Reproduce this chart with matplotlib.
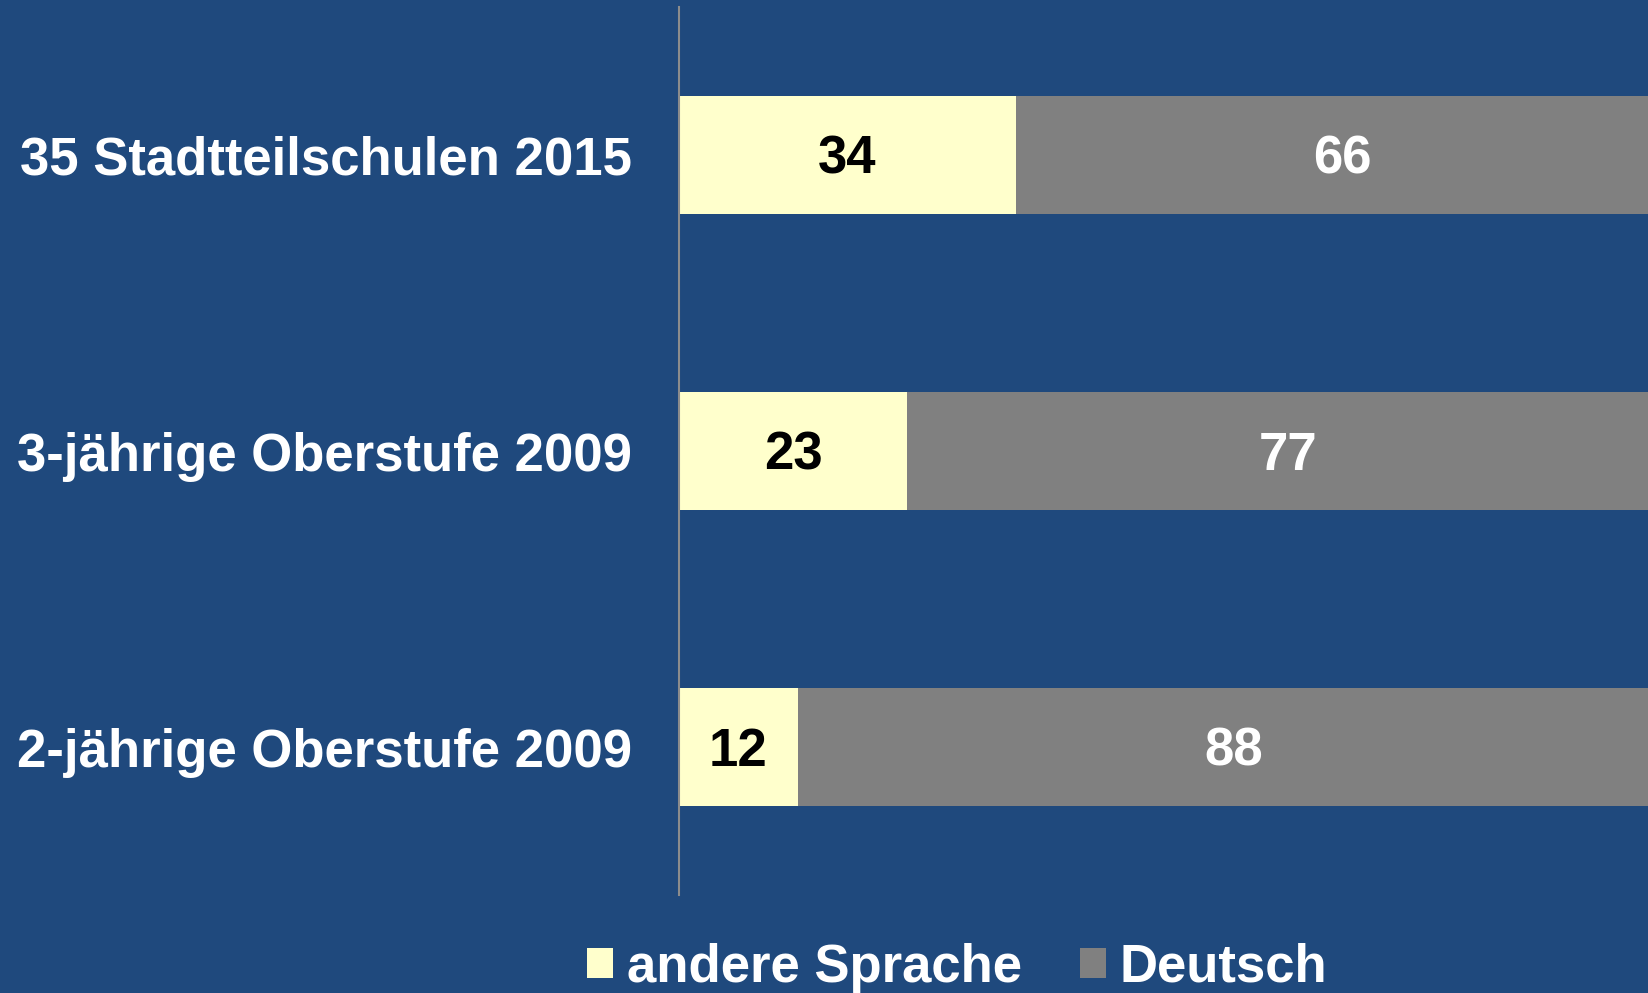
import numpy as np
import matplotlib
matplotlib.use('Agg')
import matplotlib.pyplot as plt

categories = ['35 Stadtteilschulen 2015', '3-jährige Oberstufe 2009', '2-jährige Oberstufe 2009']
andere = [34, 23, 12]
deutsch = [66, 77, 88]
series_names = ['andere Sprache', 'Deutsch']

bg = '#1F497D'
c_andere = '#FFFFCC'
c_deutsch = '#808080'

plt.rcParams['font.family'] = ['Liberation Sans', 'DejaVu Sans']
plt.rcParams['font.weight'] = 'bold'

W, H = 1649, 993
fs = 38
fig = plt.figure(figsize=(W / 100, H / 100), dpi=100, facecolor=bg)
ax = fig.add_axes([679 / W, (H - 895) / H, 970 / W, 888 / H])
ax.set_facecolor(bg)

y = np.arange(len(categories))[::-1]
h = 0.4
ax.barh(y, andere, height=h, color=c_andere, label=series_names[0])
ax.barh(y, deutsch, left=andere, height=h, color=c_deutsch, label=series_names[1])

# centre digits on cap height
off = -0.716 * fs / 2
for i in range(len(categories)):
    ax.annotate(str(andere[i]), (andere[i] / 2, y[i]), xytext=(0, off), textcoords='offset points',
                ha='center', va='baseline', fontsize=fs, fontweight='bold', color='black')
    ax.annotate(str(deutsch[i]), (andere[i] + deutsch[i] / 2, y[i]), xytext=(0, off),
                textcoords='offset points', ha='center', va='baseline',
                fontsize=fs, fontweight='bold', color='white')

ax.set_xlim(0, 97.9)
ax.set_ylim(-0.5, 2.5)
ax.set_xticks([])
ax.set_yticks(y)
ax.set_yticklabels(categories, fontsize=fs, fontweight='bold', color='white')
ax.tick_params(axis='y', length=0, pad=34)
for s in ['top', 'right', 'bottom']:
    ax.spines[s].set_visible(False)
ax.spines['left'].set_color('#8C8C8C')
ax.spines['left'].set_linewidth(1.5)

fig.legend(loc='center', bbox_to_anchor=(957 / W, 1 - 968 / H), ncol=2, frameon=False,
           handlelength=0.5, handleheight=0.5, handletextpad=0.25,
           columnspacing=1.1, labelcolor='white', prop={'weight': 'bold', 'size': fs})

plt.savefig('out.png', dpi=100, facecolor=bg)
